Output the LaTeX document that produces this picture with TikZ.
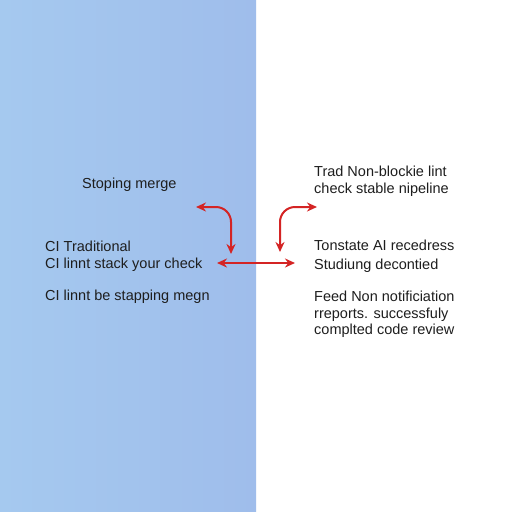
\documentclass[tikz,border=0pt]{standalone}
\usepackage{fontspec}
\setmainfont{Liberation Sans}
\usetikzlibrary{arrows.meta}
\definecolor{arr}{HTML}{D42424}
\definecolor{txt}{HTML}{1E1E1E}
\definecolor{bluel}{HTML}{A5C9EF}
\definecolor{bluer}{HTML}{9FBDEB}
\tikzset{
  lbl/.style={anchor=west, inner sep=0pt, text=txt, font=\fontsize{14.5}{16.5}\selectfont, align=left},
  redarrow/.style={draw=arr, line width=2pt, {Stealth[length=10pt,width=9pt]}-{Stealth[length=10pt,width=9pt]}, rounded corners=15pt}
}
\begin{document}
\begin{tikzpicture}[x=1pt,y=-1pt]
\useasboundingbox (0,0) rectangle (512,512);
\fill[white] (0,0) rectangle (512,512);
\shade[left color=bluel, right color=bluer] (0,0) rectangle (256,512);
% left texts
\node[lbl] (t1) at (82,185) {Stoping merge};
\node[lbl] (t2) at (45,246) {CI Traditional};
\node[lbl] (t3) at (45,265) {CI linnt stack your check};
\node[lbl] (t4) at (45,297) {CI linnt be stapping megn};
% right texts
\node[lbl] (r1) at (314,181) {Trad Non-blockie lint\\check stable nipeline};
\node[lbl, font=\fontsize{14.5}{19}\selectfont] (r2) at (314,256.5) {Tonstate AI recedress\\Studiung decontied};
\node[lbl] (r3) at (314,314.5) {Feed Non notificiation\\rreports. successfuly\\complted code review};
% connector endpoints
\coordinate (a1s) at (196,207);
\coordinate (a1e) at (231,254);
\coordinate (a2s) at (217,263);
\coordinate (a2e) at (295,263);
\coordinate (a3s) at (280,252);
\coordinate (a3e) at (317,207);
\draw[redarrow] (a1s) -| (a1e);
\draw[redarrow] (a2s) -- (a2e);
\draw[redarrow] (a3s) |- (a3e);
\end{tikzpicture}
\end{document}
